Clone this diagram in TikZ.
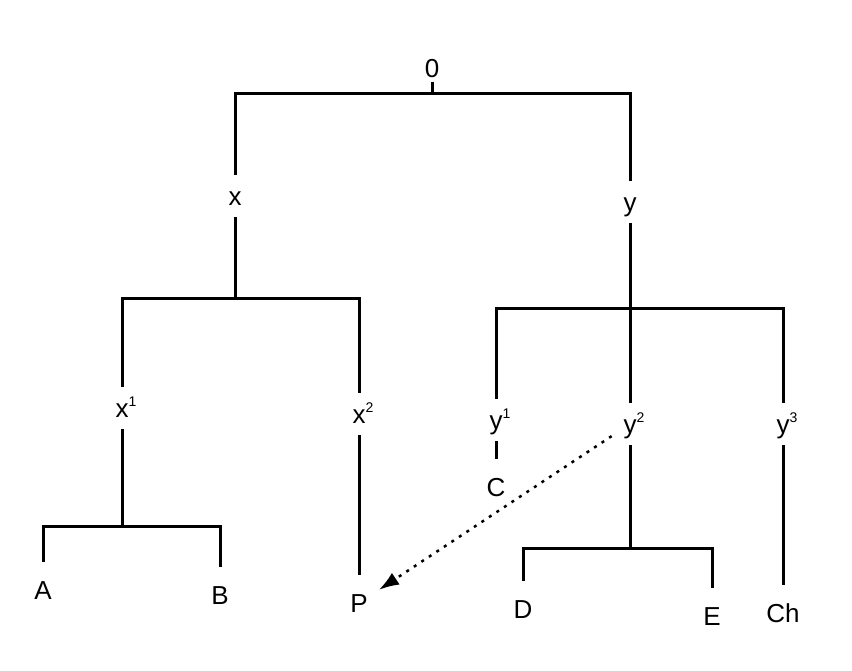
\documentclass[tikz,border=0pt]{standalone}
\usepackage{fontspec}
\setmainfont{Liberation Sans}
\usetikzlibrary{arrows.meta}
\newcommand{\sups}[1]{\rlap{\raisebox{11pt}{\fontsize{14}{14}\selectfont #1}}}

\begin{document}
\begin{tikzpicture}[x=1pt,y=-1pt,
  lbl/.style={inner sep=0pt,minimum height=42pt,text height=18pt,text depth=0pt,font=\fontsize{26}{26}\selectfont},
  leaf/.style={lbl,minimum height=56pt},
  tree/.style={line width=3pt},
  link/.style={line width=2.5pt,dash pattern=on 3pt off 6pt,-{Latex[length=20pt,width=14pt]},shorten <=22pt,shorten >=24pt}]
  \useasboundingbox (0,0) rectangle (852,670);
  % labels
  \node[lbl,minimum height=28pt] (root) at (432,68) {0};
  \node[lbl] (nx) at (235,196) {x};
  \node[lbl] (ny) at (630,202) {y};
  \node[lbl] (nx1) at (122,408) {x\sups{1}};
  \node[lbl] (nx2) at (359,414) {x\sups{2}};
  \node[lbl] (ny1) at (496,420) {y\sups{1}};
  \node[lbl] (ny2) at (630,424) {y\sups{2}};
  \node[lbl] (ny3) at (783,424) {y\sups{3}};
  \node[leaf] (A) at (43,590) {A};
  \node[leaf] (B) at (220,595) {B};
  \node[leaf] (P) at (359,603) {P};
  \node[leaf] (C) at (496,487) {C};
  \node[leaf] (D) at (523,609) {D};
  \node[leaf] (E) at (712,616) {E};
  \node[leaf] (Ch) at (783,613) {Ch};
  % junctions
  \coordinate (j0) at (432,93);
  \coordinate (j1) at (235,298);
  \coordinate (j2) at (630,308);
  \coordinate (j3) at (122,526);
  \coordinate (j4) at (630,548);
  % branches
  \draw[tree] (root) -- (j0);
  \draw[tree] (nx) -- (nx |- j0) -- (ny |- j0) -- (ny);
  \draw[tree] (nx) -- (j1);
  \draw[tree] (nx1) -- (nx1 |- j1) -- (nx2 |- j1) -- (nx2);
  \draw[tree] (ny) -- (ny2);
  \draw[tree] (ny1) -- (ny1 |- j2) -- (ny3 |- j2) -- (ny3);
  \draw[tree] (nx1) -- (j3);
  \draw[tree] (A) -- (A |- j3) -- (B |- j3) -- (B);
  \draw[tree] (nx2) -- (P);
  \draw[tree] (ny1) -- (C);
  \draw[tree] (ny2) -- (j4);
  \draw[tree] (D) -- (D |- j4) -- (E |- j4) -- (E);
  \draw[tree] (ny3) -- (Ch);
  \draw[link] (ny2.center) -- (P.center);
\end{tikzpicture}
\end{document}
